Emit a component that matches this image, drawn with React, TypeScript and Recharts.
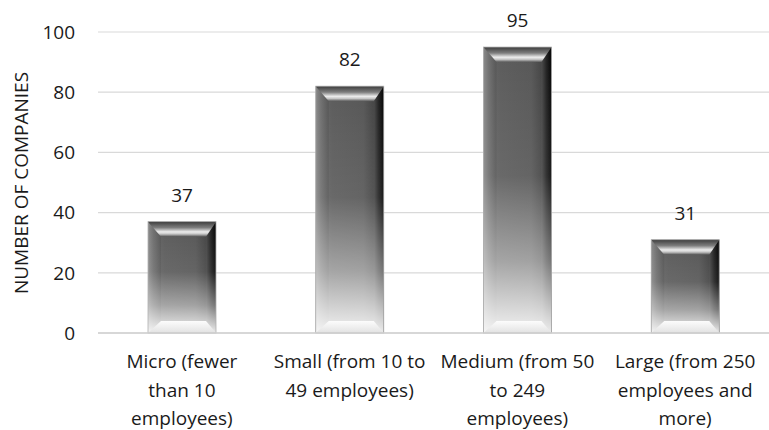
import { Bar, BarChart, CartesianGrid, Label, LabelList, XAxis, YAxis } from 'recharts'

// company size classes, line breaks mark how the axis labels wrap
const categories = [
  'Micro (fewer\nthan 10\nemployees)',
  'Small (from 10 to\n49 employees)',
  'Medium (from 50\nto 249\nemployees)',
  'Large (from 250\nemployees and\nmore)',
]
const companies = [37, 82, 95, 31]
const yTicks = [0, 20, 40, 60, 80, 100]

const data = categories.map((name, i) => ({ name, companies: companies[i] }))

const FONT = '"Open Sans", sans-serif'
const TEXT = '#1a1a1a'

// beveled "3D" block drawn for every bar
function BevelBar(props: any) {
  const { x, y, width, height } = props
  if (!height || height <= 0) return null
  const bl = Math.min(13, width / 4, height / 3)
  const br = Math.min(10, width / 5, height / 3)
  const bt = Math.min(15, height / 3)
  const bb = Math.min(12, height / 3)
  const r = x + width
  const btm = y + height
  return (
    <g>
      <rect x={x} y={y} width={width} height={height} fill='url(#bevelFace)' />
      <polygon
        points={`${r},${y} ${r - br},${y + bt} ${r - br},${btm - bb} ${r},${btm}`}
        fill='url(#bevelRight)'
      />
      <polygon
        points={`${x},${y} ${x + bl},${y + bt} ${x + bl},${btm - bb} ${x},${btm}`}
        fill='url(#bevelLeft)'
      />
      <rect x={x} y={y} width={width} height={height} fill='url(#bevelLight)' />
      <polygon points={`${x},${y} ${r},${y} ${r - br},${y + bt} ${x + bl},${y + bt}`} fill='url(#bevelTop)' />
      <polygon
        points={`${x},${btm} ${r},${btm} ${r - br},${btm - bb} ${x + bl},${btm - bb}`}
        fill='url(#bevelBottom)'
      />
      <rect x={x} y={y} width={width} height={height} fill='none' stroke='#b0b0b0' strokeWidth={0.8} />
    </g>
  )
}

function CategoryTick(props: any) {
  const { x, y, payload } = props
  const lines = String(payload.value).split('\n')
  return (
    <text x={x} y={y} textAnchor='middle' fill={TEXT} fontSize={19} fontFamily={FONT}>
      {lines.map((line, i) => (
        <tspan key={i} x={x} dy={i === 0 ? 27 : 28.5}>
          {line}
        </tspan>
      ))}
    </text>
  )
}

export default function App() {
  return (
    <div style={{ position: 'absolute', left: 0, top: 0, background: '#fff' }}>
      <BarChart
        width={769}
        height={430}
        data={data}
        margin={{ top: 32, right: 0, bottom: 67, left: 0 }}
        barSize={68}
      >
        <defs>
          <linearGradient id='bevelFace' x1='0' y1='0' x2='1' y2='0'>
            <stop offset='0' stopColor='#6a6a6a' />
            <stop offset='0.25' stopColor='#5c5c5c' />
            <stop offset='0.7' stopColor='#575757' />
            <stop offset='0.85' stopColor='#454545' />
            <stop offset='1' stopColor='#303030' />
          </linearGradient>
          <linearGradient id='bevelLeft' x1='0' y1='0' x2='1' y2='0'>
            <stop offset='0' stopColor='#8a8a8a' />
            <stop offset='0.4' stopColor='#707070' />
            <stop offset='1' stopColor='#565656' />
          </linearGradient>
          <linearGradient id='bevelRight' x1='0' y1='0' x2='1' y2='0'>
            <stop offset='0' stopColor='#4a4a4a' />
            <stop offset='0.5' stopColor='#222222' />
            <stop offset='1' stopColor='#050505' />
          </linearGradient>
          <linearGradient id='bevelLight' x1='0' y1='0' x2='0' y2='1'>
            <stop offset='0' stopColor='#ffffff' stopOpacity={0} />
            <stop offset='0.45' stopColor='#ffffff' stopOpacity={0.08} />
            <stop offset='0.75' stopColor='#ffffff' stopOpacity={0.45} />
            <stop offset='1' stopColor='#ffffff' stopOpacity={0.92} />
          </linearGradient>
          <linearGradient id='bevelTop' x1='0' y1='0' x2='0' y2='1'>
            <stop offset='0' stopColor='#3c3c3c' />
            <stop offset='0.4' stopColor='#7e7e7e' />
            <stop offset='0.68' stopColor='#ededed' />
            <stop offset='0.82' stopColor='#c8c8c8' />
            <stop offset='1' stopColor='#5a5a5a' />
          </linearGradient>
          <linearGradient id='bevelBottom' x1='0' y1='0' x2='0' y2='1'>
            <stop offset='0' stopColor='#fcfcfc' />
            <stop offset='1' stopColor='#e2e2e2' />
          </linearGradient>
        </defs>
        <CartesianGrid vertical={false} stroke='#d9d9d9' strokeWidth={1.2} />
        <XAxis
          dataKey='name'
          height={30}
          axisLine={{ stroke: '#d0d0d0', strokeWidth: 1.5 }}
          tickLine={false}
          interval={0}
          tick={<CategoryTick />}
        />
        <YAxis
          domain={[0, 100]}
          ticks={yTicks}
          width={98}
          axisLine={false}
          tickLine={false}
          tickMargin={17}
          tick={{ fill: TEXT, fontSize: 19, fontFamily: FONT }}
        >
          <Label
            content={() => (
              <text
                x={21}
                y={183}
                transform='rotate(-90 21 183)'
                textAnchor='middle'
                dominantBaseline='central'
                fill={TEXT}
                fontSize={19}
                fontFamily={FONT}
              >
                NUMBER OF COMPANIES
              </text>
            )}
          />
        </YAxis>
        <Bar dataKey='companies' shape={<BevelBar />} isAnimationActive={false}>
          <LabelList
            dataKey='companies'
            position='top'
            offset={20}
            fill={TEXT}
            fontSize={19}
            fontFamily={FONT}
          />
        </Bar>
      </BarChart>
    </div>
  )
}
